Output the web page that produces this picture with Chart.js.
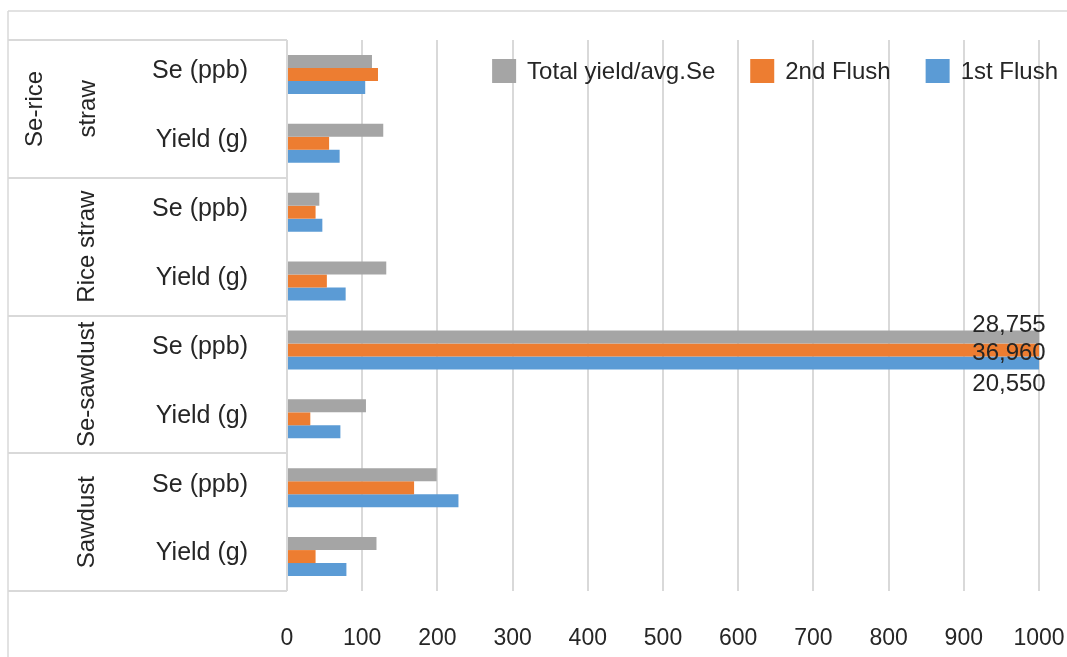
<!DOCTYPE html>
<html>
<head>
<meta charset="utf-8">
<title>Yield and Se content by substrate</title>
<script src="https://cdn.jsdelivr.net/npm/chart.js@4.4.1/dist/chart.umd.min.js"></script>
<style>
  html, body { margin: 0; padding: 0; background: #ffffff; }
  #wrap { width: 1067px; height: 657px; position: relative; }
</style>
</head>
<body>
<div id="wrap"><canvas id="chart" width="1067" height="657"></canvas></div>
<script>
// Category labels, top to bottom (two measures per substrate)
const categories = [
  'Se (ppb)', 'Yield (g)',
  'Se (ppb)', 'Yield (g)',
  'Se (ppb)', 'Yield (g)',
  'Se (ppb)', 'Yield (g)'
];

// Substrate groups, each spanning two categories (lines of the wrapped label)
const groups = [
  ['Se-rice', 'straw'],
  ['Rice straw'],
  ['Se-sawdust'],
  ['Sawdust']
];

// Series values, in category order
const totalAvg    = [113, 128, 43, 132, 28755, 105, 199, 119];
const secondFlush = [121, 56, 38, 53, 36960, 31, 169, 38];
const firstFlush  = [104, 70, 47, 78, 20550, 71, 228, 79];

const seriesNames = ['Total yield/avg.Se', '2nd Flush', '1st Flush'];

// Value axis ticks
const axisMin = 0;
const axisMax = 1000;
const axisStep = 100;

const FONT = '"Liberation Sans", Arial, Helvetica, sans-serif';
const TEXT = '#262626';
const LINE = '#d9d9d9';

// Frame and left-hand table of substrate / measure labels
const tablePlugin = {
  id: 'table',
  beforeDraw(chart) {
    const { ctx, chartArea } = chart;
    const y = chart.scales.y;
    ctx.save();
    ctx.strokeStyle = LINE;
    ctx.lineWidth = 1.5;
    ctx.beginPath();
    ctx.moveTo(8, 11);
    ctx.lineTo(chart.width, 11);
    ctx.moveTo(8, 11);
    ctx.lineTo(8, chart.height);
    ctx.stroke();

    ctx.lineWidth = 2;
    const half = (y.getPixelForTick(1) - y.getPixelForTick(0)) / 2;
    ctx.beginPath();
    ctx.moveTo(8, chartArea.top);
    ctx.lineTo(chartArea.left, chartArea.top);
    for (let g = 0; g < groups.length; g++) {
      const yy = Math.round(y.getPixelForTick(g * 2 + 1) + half);
      ctx.moveTo(8, yy);
      ctx.lineTo(chartArea.left, yy);
    }
    ctx.stroke();
    ctx.restore();
  },
  afterDraw(chart) {
    const { ctx } = chart;
    const y = chart.scales.y;
    ctx.save();
    ctx.fillStyle = TEXT;
    ctx.font = '24px ' + FONT;
    ctx.textAlign = 'center';
    ctx.textBaseline = 'middle';
    groups.forEach((lines, g) => {
      const cy = (y.getPixelForTick(g * 2) + y.getPixelForTick(g * 2 + 1)) / 2;
      const xs = lines.length > 1 ? [35, 88] : [87];
      lines.forEach((txt, i) => {
        ctx.save();
        ctx.translate(xs[i], cy);
        ctx.rotate(-Math.PI / 2);
        ctx.fillText(txt, 0, 0);
        ctx.restore();
      });
    });
    ctx.restore();
  }
};

// Legend inside the plot area, right-aligned
const legendPlugin = {
  id: 'innerLegend',
  afterDatasetsDraw(chart) {
    const { ctx } = chart;
    const box = 24, gapText = 11, gapItem = 35, right = 1058, cy = 71;
    ctx.save();
    ctx.font = '24px ' + FONT;
    ctx.textBaseline = 'middle';
    ctx.textAlign = 'left';
    let x = right;
    const items = chart.data.datasets.map(d => ({ text: d.label, color: d.backgroundColor }));
    for (let i = items.length - 1; i >= 0; i--) {
      const w = ctx.measureText(items[i].text).width;
      const tx = x - w;
      const bx = tx - gapText - box;
      ctx.fillStyle = items[i].color;
      ctx.fillRect(bx, cy - box / 2, box, box);
      ctx.fillStyle = TEXT;
      ctx.fillText(items[i].text, tx, cy + 1);
      x = bx - gapItem;
    }
    ctx.restore();
  }
};

// Value labels for bars running past the end of the axis
const overflowLabels = {
  id: 'overflowLabels',
  afterDatasetsDraw(chart, args, opts) {
    const { ctx, chartArea } = chart;
    ctx.save();
    ctx.font = '24px ' + FONT;
    ctx.fillStyle = TEXT;
    ctx.textAlign = 'center';
    ctx.textBaseline = 'middle';
    chart.data.datasets.forEach((ds, di) => {
      const meta = chart.getDatasetMeta(di);
      ds.data.forEach((v, idx) => {
        if (v <= axisMax) return;
        const el = meta.data[idx];
        const x = Math.min(el.x, chartArea.right) - opts.inset;
        const yy = el.y + opts.offsets[di];
        ctx.fillText(v.toLocaleString('en-US'), x, yy);
      });
    });
    ctx.restore();
  }
};

function noEdgePadding(scale) {
  scale.paddingTop = 0;
  scale.paddingBottom = 0;
  scale.paddingLeft = 0;
  scale.paddingRight = 0;
}

new Chart(document.getElementById('chart'), {
  type: 'bar',
  data: {
    labels: categories,
    datasets: [
      { label: seriesNames[0], data: totalAvg,    backgroundColor: '#a5a5a5' },
      { label: seriesNames[1], data: secondFlush, backgroundColor: '#ed7d31' },
      { label: seriesNames[2], data: firstFlush,  backgroundColor: '#5b9bd5' }
    ]
  },
  options: {
    indexAxis: 'y',
    responsive: false,
    animation: false,
    devicePixelRatio: 1,
    layout: { padding: { top: 40, right: 28, left: 0, bottom: 0 } },
    datasets: {
      bar: { categoryPercentage: 0.565, barPercentage: 1.0, borderWidth: 0 }
    },
    scales: {
      x: {
        min: axisMin,
        max: axisMax,
        border: { display: false },
        grid: { color: LINE, lineWidth: 2, drawTicks: false },
        ticks: {
          stepSize: axisStep,
          padding: 34,
          color: TEXT,
          font: { family: FONT, size: 23 },
          maxRotation: 0,
          callback: (v) => String(v)
        },
        afterFit(scale) { scale.height = 66; noEdgePadding(scale); }
      },
      y: {
        border: { display: false },
        grid: { display: false, drawTicks: false },
        ticks: {
          padding: 39,
          labelOffset: -3,
          color: TEXT,
          font: { family: FONT, size: 25 }
        },
        afterFit(scale) { scale.width = 287; noEdgePadding(scale); }
      }
    },
    plugins: {
      legend: { display: false },
      tooltip: { enabled: false },
      overflowLabels: { inset: 30, offsets: [-11.5, 3.5, 21.5] }
    }
  },
  plugins: [tablePlugin, legendPlugin, overflowLabels]
});
</script>
</body>
</html>
